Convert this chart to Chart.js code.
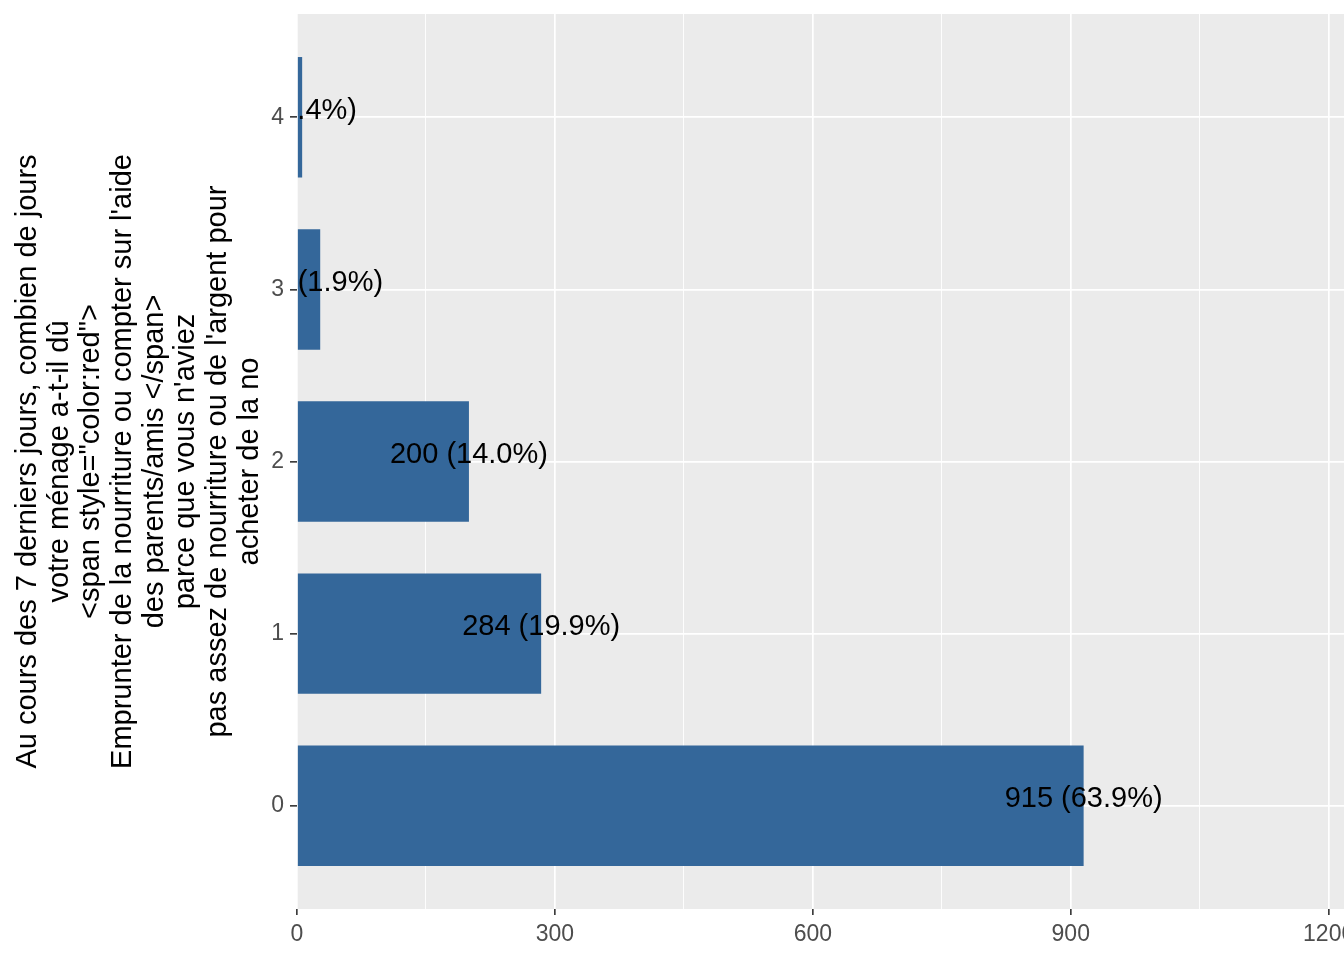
<!DOCTYPE html>
<html><head><meta charset="utf-8">
<script src="https://cdn.jsdelivr.net/npm/chart.js@4/dist/chart.umd.min.js"></script>
<style>
html,body{margin:0;padding:0;background:#fff;overflow:hidden;width:1344px;height:960px}
#wrap{position:relative;width:1400px;height:960px}
</style></head>
<body><div id="wrap"><canvas id="c" width="1400" height="960"></canvas></div>
<script>
const categories = [0, 1, 2, 3, 4];
const counts = [915, 284, 200, 27, 6];
const percents = ['63.9', '19.9', '14.0', '1.9', '0.4'];
const xTicks = [0, 150, 300, 450, 600, 750, 900, 1050, 1200];
const xLabeled = [0, 300, 600, 900, 1200];
const titleLines = [
  'Au cours des 7 derniers jours, combien de jours',
  'votre ménage a-t-il dû',
  '<span style="color:red">',
  "Emprunter de la nourriture ou compter sur l'aide",
  'des parents/amis </span>',
  "parce que vous n'aviez",
  "pas assez de nourriture ou de l'argent pour",
  'acheter de la no'
];

const FONT = '"Liberation Sans", Arial, sans-serif';

const panelBg = {
  id: 'panelBg',
  beforeDraw(chart) {
    const {ctx, chartArea: a} = chart;
    ctx.save();
    ctx.fillStyle = '#ebebeb';
    ctx.fillRect(a.left, a.top, a.right - a.left, a.bottom - a.top);
    ctx.restore();
  }
};

const barLabels = {
  id: 'barLabels',
  afterDatasetsDraw(chart) {
    const {ctx, chartArea: a, scales: {x, y}} = chart;
    ctx.save();
    ctx.beginPath();
    ctx.rect(a.left, a.top, a.right - a.left, a.bottom - a.top);
    ctx.clip();
    ctx.font = '29px ' + FONT;
    ctx.fillStyle = '#000';
    ctx.textAlign = 'center';
    ctx.textBaseline = 'alphabetic';
    categories.forEach((c, i) => {
      ctx.fillText(counts[i] + ' (' + percents[i] + '%)', x.getPixelForValue(counts[i]), y.getPixelForValue(c) + 1.5);
    });
    ctx.restore();
  }
};

new Chart(document.getElementById('c'), {
  type: 'bar',
  data: {
    datasets: [{
      data: categories.map((c, i) => ({x: counts[i], y: c})),
      backgroundColor: '#34679a',
      borderWidth: 0,
      barPercentage: 0.7,
      categoryPercentage: 1.0
    }]
  },
  options: {
    indexAxis: 'y',
    responsive: false,
    animation: false,
    devicePixelRatio: 1,
    layout: {padding: {top: 14, left: 0, right: 0, bottom: 0}},
    plugins: {legend: {display: false}, tooltip: {enabled: false}},
    scales: {
      x: {
        type: 'linear',
        min: 0,
        max: 1283,
        offset: false,
        afterBuildTicks: s => { s.ticks = xTicks.map(v => ({value: v})); },
        afterFit: s => { s.height = 51; s.paddingLeft = 0; s.paddingRight = 0; },
        border: {display: false},
        grid: {
          offset: false,
          color: '#ffffff',
          lineWidth: ctx => (ctx.tick && xLabeled.includes(ctx.tick.value)) ? 1.7 : 0.9,
          tickColor: ctx => (ctx.tick && xLabeled.includes(ctx.tick.value)) ? '#333333' : 'rgba(0,0,0,0)',
          tickLength: 6,
          tickWidth: 1.6
        },
        ticks: {
          color: '#4d4d4d',
          font: {family: FONT, size: 23},
          padding: 6,
          autoSkip: false,
          maxRotation: 0,
          callback: v => xLabeled.includes(v) ? String(v) : ''
        }
      },
      y: {
        type: 'linear',
        min: -0.6,
        max: 4.6,
        offset: false,
        afterBuildTicks: s => { s.ticks = categories.map(v => ({value: v})); },
        afterFit: s => { s.width = 297; s.paddingTop = 0; s.paddingBottom = 0; },
        border: {display: false},
        grid: {
          offset: false,
          color: '#ffffff',
          lineWidth: 1.7,
          tickColor: '#333333',
          tickLength: 7,
          tickWidth: 1.6
        },
        ticks: {
          color: '#4d4d4d',
          font: {family: FONT, size: 23},
          padding: 6,
          autoSkip: false,
          callback: v => String(v)
        },
        title: {
          display: true,
          text: titleLines,
          color: '#000000',
          font: {family: FONT, size: 29, lineHeight: 1.093},
          padding: {top: 12, bottom: 0}
        }
      }
    }
  },
  plugins: [panelBg, barLabels]
});
</script>
</body></html>
